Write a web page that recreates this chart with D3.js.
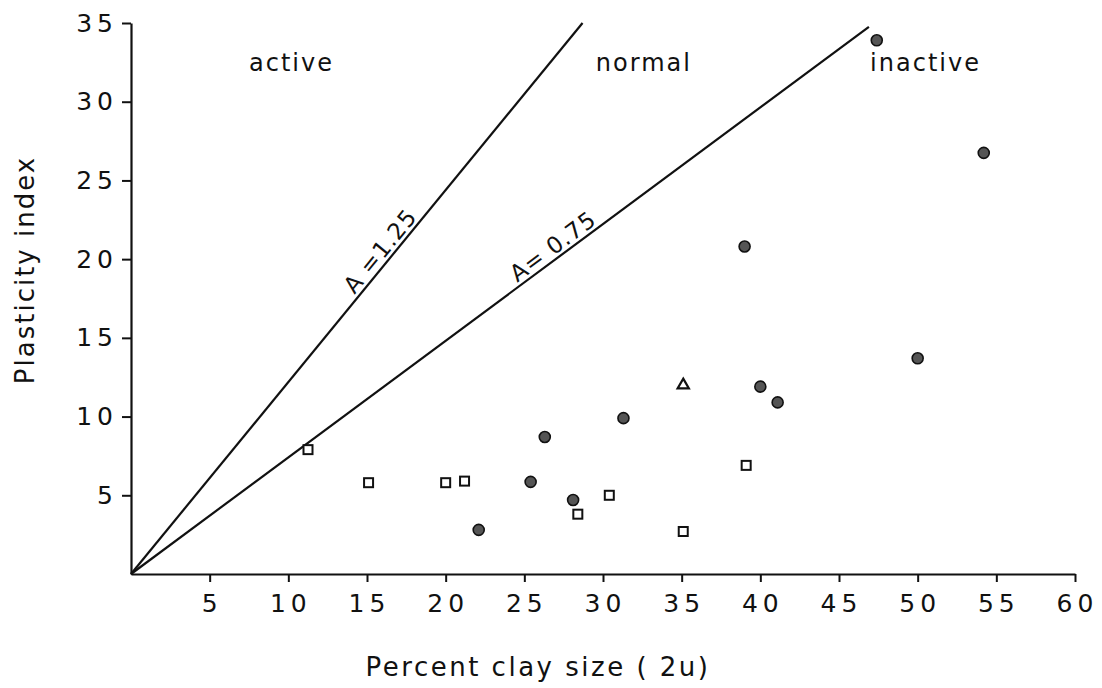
<!DOCTYPE html>
<html>
<head>
<meta charset="utf-8">
<script src="https://cdn.jsdelivr.net/npm/d3@7"></script>
<style>
  body { margin: 0; background: #fff; }
  text { font-family: "DejaVu Sans", sans-serif; fill: #111; }
</style>
</head>
<body>
<div id="chart"></div>
<script>
// clay % (x) vs plasticity index (y)
var circlePts = [
    [26.3, 8.7], [31.3, 9.9], [40.0, 11.9], [41.1, 10.9], [25.4, 5.85],
    [28.1, 4.7], [22.1, 2.8], [50.0, 13.7], [39.0, 20.8], [47.4, 33.9],
    [54.2, 26.75]
];
var squarePts = [
    [11.25, 7.9], [15.1, 5.8], [20.0, 5.8], [21.2, 5.9], [30.4, 5.0],
    [28.4, 3.8], [35.1, 2.7], [39.1, 6.9]
];
var trianglePts = [[35.1, 12.0]];

// activity lines, drawn from origin to the end point
var activityLines = [
    { label: "A =1.25", end: [28.7, 35], labelAt: 14.4 },
    { label: "A= 0.75", end: [46.9, 34.75], labelAt: 24.7 }
];
var regionLabels = [
    { text: "active", x: 10.2 },
    { text: "normal", x: 32.6 },
    { text: "inactive", x: 50.5 }
];
var xTicks = [5, 10, 15, 20, 25, 30, 35, 40, 45, 50, 55, 60];
var yTicks = [5, 10, 15, 20, 25, 30, 35];

var width = 1102, height = 688;

var svg = d3.select("#chart").append("svg")
    .attr("width", width)
    .attr("height", height);

var x = d3.scaleLinear().domain([0, 60]).range([131, 1075]);
var y = d3.scaleLinear().domain([0, 35]).range([574, 23]);

// axes
var xAxis = svg.append("g")
    .attr("transform", `translate(0, ${y(0)})`)
    .call(d3.axisBottom(x).tickValues(xTicks).tickSize(8).tickSizeOuter(0).tickFormat(d3.format("d")));
var yAxis = svg.append("g")
    .attr("transform", `translate(${x(0)}, 0)`)
    .call(d3.axisLeft(y).tickValues(yTicks).tickSize(9).tickSizeOuter(0).tickFormat(d3.format("d")));

[xAxis, yAxis].forEach(function(ax) {
    ax.select(".domain").attr("stroke", "#111").attr("stroke-width", 2.2);
    ax.selectAll(".tick line").attr("stroke", "#111").attr("stroke-width", 2);
    ax.selectAll(".tick text")
        .style("font-family", "DejaVu Sans, sans-serif")
        .style("font-size", "25px")
        .style("letter-spacing", "5px")
        .attr("fill", "#111");
});
xAxis.selectAll(".tick text").attr("y", 20).attr("dx", "2px");
yAxis.selectAll(".tick text").attr("x", -13);

// axis titles
svg.append("text")
    .attr("x", 538)
    .attr("y", 676)
    .attr("text-anchor", "middle")
    .style("font-size", "26px")
    .style("letter-spacing", "2.5px")
    .text("Percent clay size ( 2u)");

svg.append("text")
    .attr("transform", "translate(34, 270) rotate(-90)")
    .attr("text-anchor", "middle")
    .style("font-size", "26px")
    .style("letter-spacing", "2px")
    .text("Plasticity  index");

// activity lines
activityLines.forEach(function(l) {
    svg.append("line")
        .attr("x1", x(0)).attr("y1", y(0))
        .attr("x2", x(l.end[0])).attr("y2", y(l.end[1]))
        .attr("stroke", "#111")
        .attr("stroke-width", 2.2);

    var slope = l.end[1] / l.end[0];
    var px = x(l.labelAt), py = y(l.labelAt * slope);
    var ang = Math.atan2(y(l.end[1]) - y(0), x(l.end[0]) - x(0)) * 180 / Math.PI;
    svg.append("text")
        .attr("transform", `translate(${px}, ${py}) rotate(${ang})`)
        .attr("dy", -4)
        .style("font-size", "23px")
        .style("letter-spacing", "1px")
        .text(l.label);
});

// region names
regionLabels.forEach(function(r) {
    svg.append("text")
        .attr("x", x(r.x))
        .attr("y", 71)
        .attr("text-anchor", "middle")
        .style("font-size", "24px")
        .style("letter-spacing", "2px")
        .text(r.text);
});

// points
svg.selectAll(".circ")
    .data(circlePts)
    .enter().append("circle")
    .attr("class", "circ")
    .attr("cx", d => x(d[0]))
    .attr("cy", d => y(d[1]))
    .attr("r", 5.5)
    .attr("fill", "#555")
    .attr("stroke", "#111")
    .attr("stroke-width", 1.6);

svg.selectAll(".sq")
    .data(squarePts)
    .enter().append("rect")
    .attr("class", "sq")
    .attr("x", d => x(d[0]) - 4.5)
    .attr("y", d => y(d[1]) - 4.5)
    .attr("width", 9)
    .attr("height", 9)
    .attr("fill", "#fff")
    .attr("stroke", "#111")
    .attr("stroke-width", 2);

svg.selectAll(".tri")
    .data(trianglePts)
    .enter().append("path")
    .attr("class", "tri")
    .attr("transform", d => `translate(${x(d[0])}, ${y(d[1])})`)
    .attr("d", d3.symbol().type(d3.symbolTriangle).size(55))
    .attr("fill", "#fff")
    .attr("stroke", "#111")
    .attr("stroke-width", 2.2);
</script>
</body>
</html>
